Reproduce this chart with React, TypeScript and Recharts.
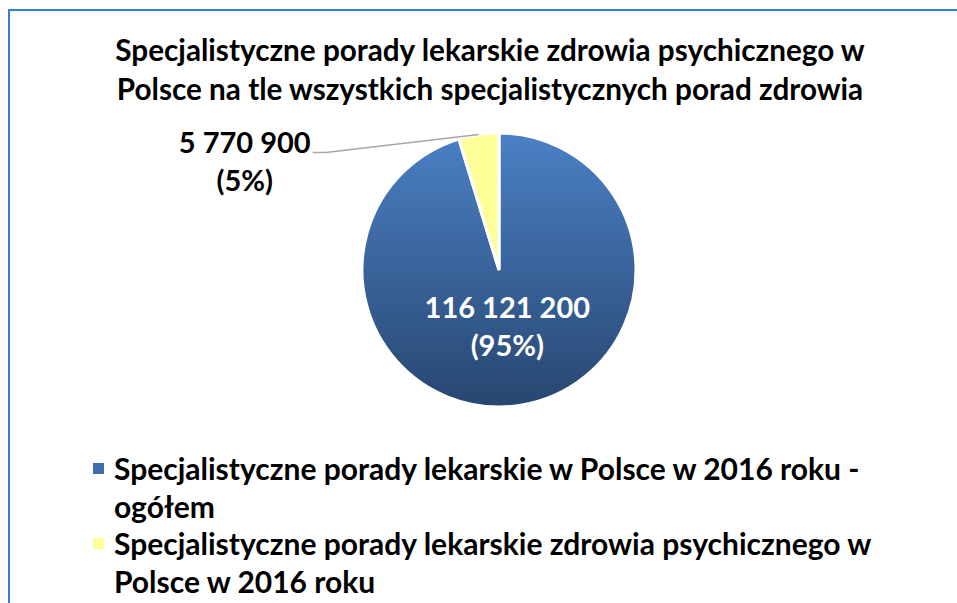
import React from "react";
import { PieChart, Pie, Cell, Legend } from "recharts";

const titleLines = [
  "Specjalistyczne porady lekarskie zdrowia psychicznego w",
  "Polsce na tle wszystkich specjalistycznych porad zdrowia",
];
const categories = [
  "Specjalistyczne porady lekarskie w Polsce w 2016 roku - ogółem",
  "Specjalistyczne porady lekarskie zdrowia psychicznego w Polsce w 2016 roku",
];
const values = [116121200, 5770900];
const colors = ["url(#blueGrad)", "#FFFF99"];
const legendColors = ["#3F6EAA", "#FFFF99"];

const data = categories.map((name, i) => ({ name, value: values[i] }));

const FONT = "Lato, 'Open Sans', sans-serif";

const fmt = (v: number) => String(v).replace(/\B(?=(\d{3})+(?!\d))/g, " ");
const RAD = Math.PI / 180;

const renderLabel = (props: any) => {
  const { cx, cy, midAngle, outerRadius, percent, value, index } = props;
  const cos = Math.cos(-midAngle * RAD);
  const sin = Math.sin(-midAngle * RAD);
  const pct = `(${Math.round(percent * 100)}%)`;
  if (index === 0) {
    const r = outerRadius * 0.41;
    const x = cx + r * cos;
    const y = cy + r * sin;
    return (
      <text x={x} y={y} textAnchor="middle" fill="#ffffff" fontFamily={FONT} fontWeight={700} fontSize={29}>
        <tspan x={x} dy={-8}>{fmt(value)}</tspan>
        <tspan x={x} dy={38}>{pct}</tspan>
      </text>
    );
  }
  const ex = cx + outerRadius * cos;
  const ey = cy + outerRadius * sin;
  const mx = ex - 153;
  const my = ey + 18;
  const lx = mx - 13;
  const tx = lx - 68;
  return (
    <g>
      <polyline points={`${ex},${ey} ${mx},${my} ${lx},${my}`} fill="none" stroke="#A6A6A6" strokeWidth={1.5} />
      <text x={tx} y={my} textAnchor="middle" fill="#000000" fontFamily={FONT} fontWeight={700} fontSize={29}>
        <tspan x={tx} dy={0}>{fmt(value)}</tspan>
        <tspan x={tx} dy={38}>{pct}</tspan>
      </text>
    </g>
  );
};

const renderLegend = (props: any) => {
  const { payload } = props;
  return (
    <div style={{ width: 780, fontFamily: FONT, fontWeight: 700, fontSize: 30, lineHeight: "37.5px", color: "#000", textAlign: "left" }}>
      {(payload || []).map((p: any, i: number) => (
        <div key={i} style={{ position: "relative", paddingLeft: 21 }}>
          <span
            style={{
              position: "absolute",
              left: 0,
              top: 13,
              width: 11,
              height: 11,
              background: legendColors[i],
            }}
          />
          {p.value}
        </div>
      ))}
    </div>
  );
};

export default function App() {
  return (
    <div style={{ position: "absolute", left: 0, top: 0, width: 957, height: 603, background: "#fff", overflow: "hidden" }}>
      <div
        style={{
          position: "absolute",
          left: 8,
          top: 9,
          width: 1000,
          height: 700,
          borderLeft: "2px solid #2F80D0",
          borderTop: "2px solid #2F80D0",
        }}
      />
      <div
        style={{
          position: "absolute",
          left: 0,
          top: 30,
          width: 980,
          textAlign: "center",
          fontFamily: FONT,
          fontWeight: 700,
          fontSize: 29.7,
          lineHeight: "39px",
          color: "#000",
        }}
      >
        {titleLines.map((t, i) => (
          <div key={i}>{t}</div>
        ))}
      </div>
      <div style={{ position: "absolute", left: 0, top: 0 }}>
        <PieChart width={957} height={603} margin={{ top: 0, right: 0, bottom: 0, left: 0 }}>
          <defs>
            <linearGradient id="blueGrad" x1="0" y1="0" x2="0" y2="1">
              <stop offset="0%" stopColor="#4A80C4" />
              <stop offset="100%" stopColor="#284670" />
            </linearGradient>
          </defs>
          <Pie
            data={data}
            dataKey="value"
            nameKey="name"
            cx={499}
            cy={270}
            outerRadius={137}
            startAngle={90}
            endAngle={-270}
            stroke="#ffffff"
            strokeWidth={3}
            label={renderLabel}
            labelLine={false}
            isAnimationActive={false}
          >
            {data.map((d, i) => (
              <Cell key={d.name} fill={colors[i]} />
            ))}
          </Pie>
          <Legend
            layout="horizontal"
            verticalAlign="bottom"
            align="left"
            content={renderLegend}
            wrapperStyle={{ position: "absolute", left: 93, top: 450, bottom: "auto", width: 800 }}
          />
        </PieChart>
      </div>
    </div>
  );
}
